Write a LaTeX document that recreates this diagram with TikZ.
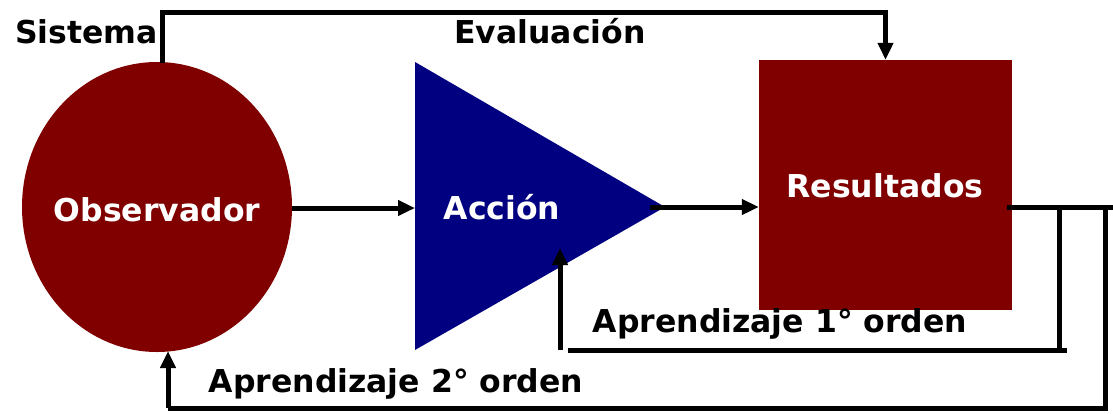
\documentclass[tikz,border=0pt]{standalone}
\usepackage{fontspec}
\setmainfont{DejaVu Sans}
\usetikzlibrary{arrows.meta,shapes.geometric}
\definecolor{maroon}{HTML}{800000}
\definecolor{navyb}{HTML}{000080}
\begin{document}
\begin{tikzpicture}[x=1pt,y=-1pt,
  lbl/.style={font=\fontsize{31.5}{34}\selectfont\bfseries, inner sep=0pt},
  wlbl/.style={lbl, text=white},
  ln/.style={line width=5pt},
  arr/.style={ln, -{Triangle[length=17pt,width=15pt]}}]
\useasboundingbox (0,0) rectangle (1113,413);
% shapes
\node[ellipse, fill=maroon, minimum width=270pt, minimum height=290pt, inner sep=0pt] (obs) at (157,207) {};
\node[wlbl] (obst) at (157,210) {Observador};
\fill[navyb] (415,62) -- (665,207) -- (415,350) -- cycle;
\coordinate (accin) at (415,208);
\coordinate (accout) at (650,207);
\node[wlbl] (acct) at (502,207) {Acción};
\node[rectangle, fill=maroon, minimum width=253pt, minimum height=250pt, inner sep=0pt] (res) at (885.5,185) {};
\node[wlbl, anchor=base] (rest) at (885,197) {Resultados};
% labels
\node[lbl, anchor=base west] (sis) at (15,43) {Sistema};
\node[lbl, anchor=base] (eva) at (550,43) {Evaluación};
\node[lbl, anchor=base] (ap1) at (780,332) {Aprendizaje 1° orden};
\node[lbl, anchor=base] (ap2) at (396,392) {Aprendizaje 2° orden};
% coordinates
\coordinate (top0) at (162,63);
\coordinate (top1) at (162,12);
\coordinate (r0) at (1007,207);
\coordinate (r1) at (1113,207);
\coordinate (v1a) at (1059,207);
\coordinate (v1b) at (1059,350);
\coordinate (h1a) at (1067,350);
\coordinate (h1b) at (568,350);
\coordinate (a1a) at (560,350);
\coordinate (a1b) at (560,248);
\coordinate (v2a) at (1105,207);
\coordinate (v2b) at (1105,408);
\coordinate (b2) at (168,408);
\coordinate (b2t) at (168,351);
% connectors
\draw[arr] (top0) -- (top1) -| (res.north);
\draw[arr] (obs.east |- accin) -- (accin);
\draw[arr] (accout) -- (res.west |- accout);
\draw[ln] (r0) -- (r1);
\draw[ln] (v1a) -- (v1b);
\draw[ln] (h1a) -- (h1b);
\draw[arr] (a1a) -- (a1b);
\draw[ln] (v2a) -- (v2b) -- (b2);
\draw[arr] (b2) -- (b2t);
\end{tikzpicture}
\end{document}
